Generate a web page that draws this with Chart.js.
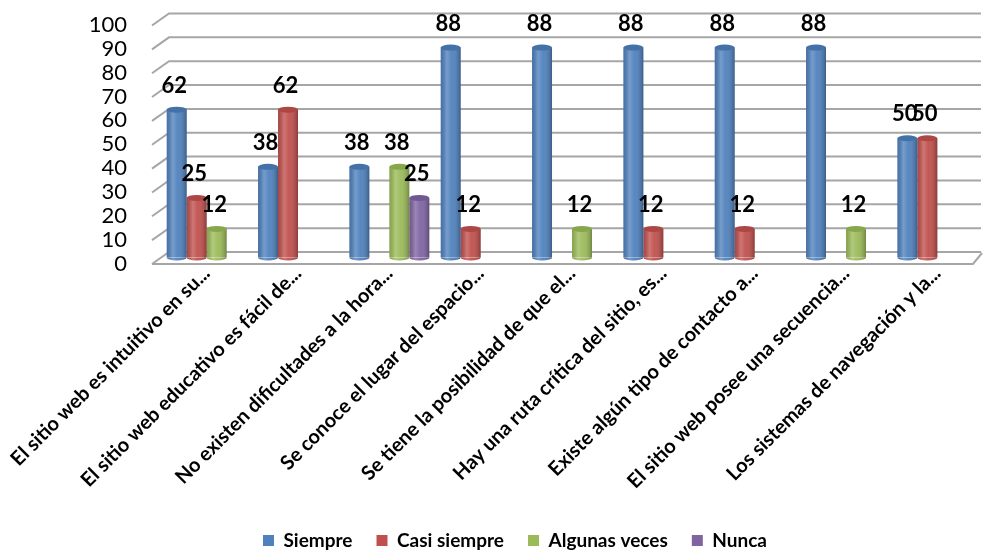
<!DOCTYPE html>
<html lang="es">
<head>
  <meta charset="UTF-8">
  <title>Evaluación del sitio web educativo</title>
  <script src="https://cdn.jsdelivr.net/npm/chart.js"></script>
  <style>
    html, body { margin: 0; padding: 0; background: #fff; }
    .grafico-wrap { width: 984px; height: 550px; position: relative; }
  </style>
</head>
<body>
  <div class="grafico-wrap"><canvas id="grafico"></canvas></div>

  <script>
    const categorias = [
      'El sitio web es intuitivo en su...',
      'El sitio web educativo es fácil de...',
      'No existen dificultades a la hora...',
      'Se conoce el lugar del espacio...',
      'Se tiene la posibilidad de que el...',
      'Hay una ruta crítica del sitio, es...',
      'Existe algún tipo de contacto a...',
      'El sitio web posee una secuencia...',
      'Los sistemas de navegación y la...'
    ];
    const series = ['Siempre', 'Casi siempre', 'Algunas veces', 'Nunca'];
    const siempre      = [62, 38, 38, 88, 88, 88, 88, 88, 50];
    const casiSiempre  = [25, 62, null, 12, null, 12, 12, null, 50];
    const algunasVeces = [12, null, 38, null, 12, null, null, 12, null];
    const nunca        = [null, null, 25, null, null, null, null, null, null];
    const ticksY = [0, 10, 20, 30, 40, 50, 60, 70, 80, 90, 100];

    const colores = ['#4f81bd', '#c0504d', '#9bbb59', '#8064a2'];
    const tapas   = ['#4472a8', '#ad4744', '#88a64c', '#705892'];
    const FUENTE = 'Lato, "Open Sans", sans-serif';

    // rejilla en perspectiva (pared de fondo + piso)
    const rejilla3d = {
      id: 'rejilla3d',
      beforeDatasetsDraw(chart) {
        const { ctx, chartArea } = chart;
        const y = chart.scales.y;
        const xFondo = chartArea.left + 8, xFrente = chartArea.left - 9;
        ctx.save();
        ctx.strokeStyle = '#a6a6a6';
        ctx.lineWidth = 2;
        ticksY.forEach(v => {
          const yb = y.getPixelForValue(v) - 5.5;
          ctx.beginPath();
          ctx.moveTo(xFrente, yb + 12);
          ctx.lineTo(xFondo, yb);
          ctx.lineTo(chartArea.right - 2, yb);
          ctx.stroke();
        });
        // borde frontal del piso
        const y0 = y.getPixelForValue(0) - 5.5;
        ctx.beginPath();
        ctx.moveTo(xFrente, y0 + 12);
        ctx.lineTo(chartArea.right - 10, y0 + 12);
        ctx.lineTo(chartArea.right - 1, y0 + 1);
        ctx.stroke();
        ctx.restore();
      }
    };

    // sombreado cilíndrico sobre las barras que dibuja Chart.js
    const cilindros = {
      id: 'cilindros',
      afterDatasetsDraw(chart) {
        const ctx = chart.ctx;
        chart.data.datasets.forEach((ds, i) => {
          const meta = chart.getDatasetMeta(i);
          meta.data.forEach((bar, j) => {
            if (ds.data[j] == null) return;
            const { x, y, base, width } = bar.getProps(['x', 'y', 'base', 'width'], true);
            const l = x - width / 2, r = x + width / 2, ry = 3;
            const g = ctx.createLinearGradient(l, 0, r, 0);
            g.addColorStop(0, 'rgba(0,0,0,0.12)');
            g.addColorStop(0.3, 'rgba(255,255,255,0.22)');
            g.addColorStop(0.55, 'rgba(255,255,255,0.05)');
            g.addColorStop(1, 'rgba(0,0,0,0.28)');
            ctx.save();
            // fondo redondeado
            ctx.beginPath();
            ctx.ellipse(x, base, width / 2, ry, 0, 0, Math.PI);
            ctx.fillStyle = colores[i];
            ctx.fill();
            ctx.fillStyle = g;
            ctx.fill();
            ctx.fillRect(l, y, width, base - y);
            // tapa superior
            ctx.beginPath();
            ctx.ellipse(x, y, width / 2, ry, 0, 0, Math.PI * 2);
            ctx.fillStyle = tapas[i];
            ctx.fill();
            ctx.restore();
          });
        });
      }
    };

    // etiquetas de valor
    const etiquetas = {
      id: 'etiquetas',
      afterDraw(chart) {
        const ctx = chart.ctx;
        ctx.save();
        ctx.font = 'bold 22px ' + FUENTE;
        ctx.fillStyle = '#000';
        ctx.textAlign = 'center';
        ctx.textBaseline = 'middle';
        chart.data.datasets.forEach((ds, i) => {
          chart.getDatasetMeta(i).data.forEach((bar, j) => {
            if (ds.data[j] == null) return;
            ctx.fillText(String(ds.data[j]), bar.x - 2.5, bar.y - 24);
          });
        });
        ctx.restore();
      }
    };

    new Chart(document.getElementById('grafico'), {
      type: 'bar',
      data: {
        labels: categorias,
        datasets: [siempre, casiSiempre, algunasVeces, nunca].map((d, i) => ({
          label: series[i],
          data: d,
          backgroundColor: colores[i],
          borderWidth: 0,
          barPercentage: 1,
          categoryPercentage: 0.875
        }))
      },
      options: {
        responsive: true,
        maintainAspectRatio: false,
        animation: false,
        layout: { padding: { left: 47, top: 19, right: 1, bottom: -10 } },
        plugins: {
          tooltip: { enabled: false },
          legend: {
            position: 'bottom',
            labels: {
              boxWidth: 11,
              boxHeight: 11,
              padding: 24,
              color: '#000',
              font: { family: FUENTE, size: 19, weight: 'bold' }
            }
          }
        },
        scales: {
          x: {
            grid: { display: false, drawTicks: false },
            border: { display: false },
            ticks: {
              autoSkip: false,
              minRotation: 45,
              maxRotation: 45,
              padding: 4,
              color: '#000',
              font: { family: FUENTE, size: 20, weight: 'bold' }
            },
            afterFit(s) {
              s.height = 249.5;
              s.paddingLeft = 0;
              s.paddingRight = 0;
            }
          },
          y: {
            min: 0,
            max: 100,
            grid: { display: false, drawTicks: false },
            border: { display: false },
            ticks: {
              stepSize: 10,
              autoSkip: false,
              padding: 34,
              labelOffset: 6,
              color: '#000',
              font: { family: FUENTE, size: 22 }
            },
            afterFit(s) {
              s.width = 114;
              s.paddingTop = 0;
              s.paddingBottom = 0;
            }
          }
        }
      },
      plugins: [rejilla3d, cilindros, etiquetas]
    });
  </script>
</body>
</html>
